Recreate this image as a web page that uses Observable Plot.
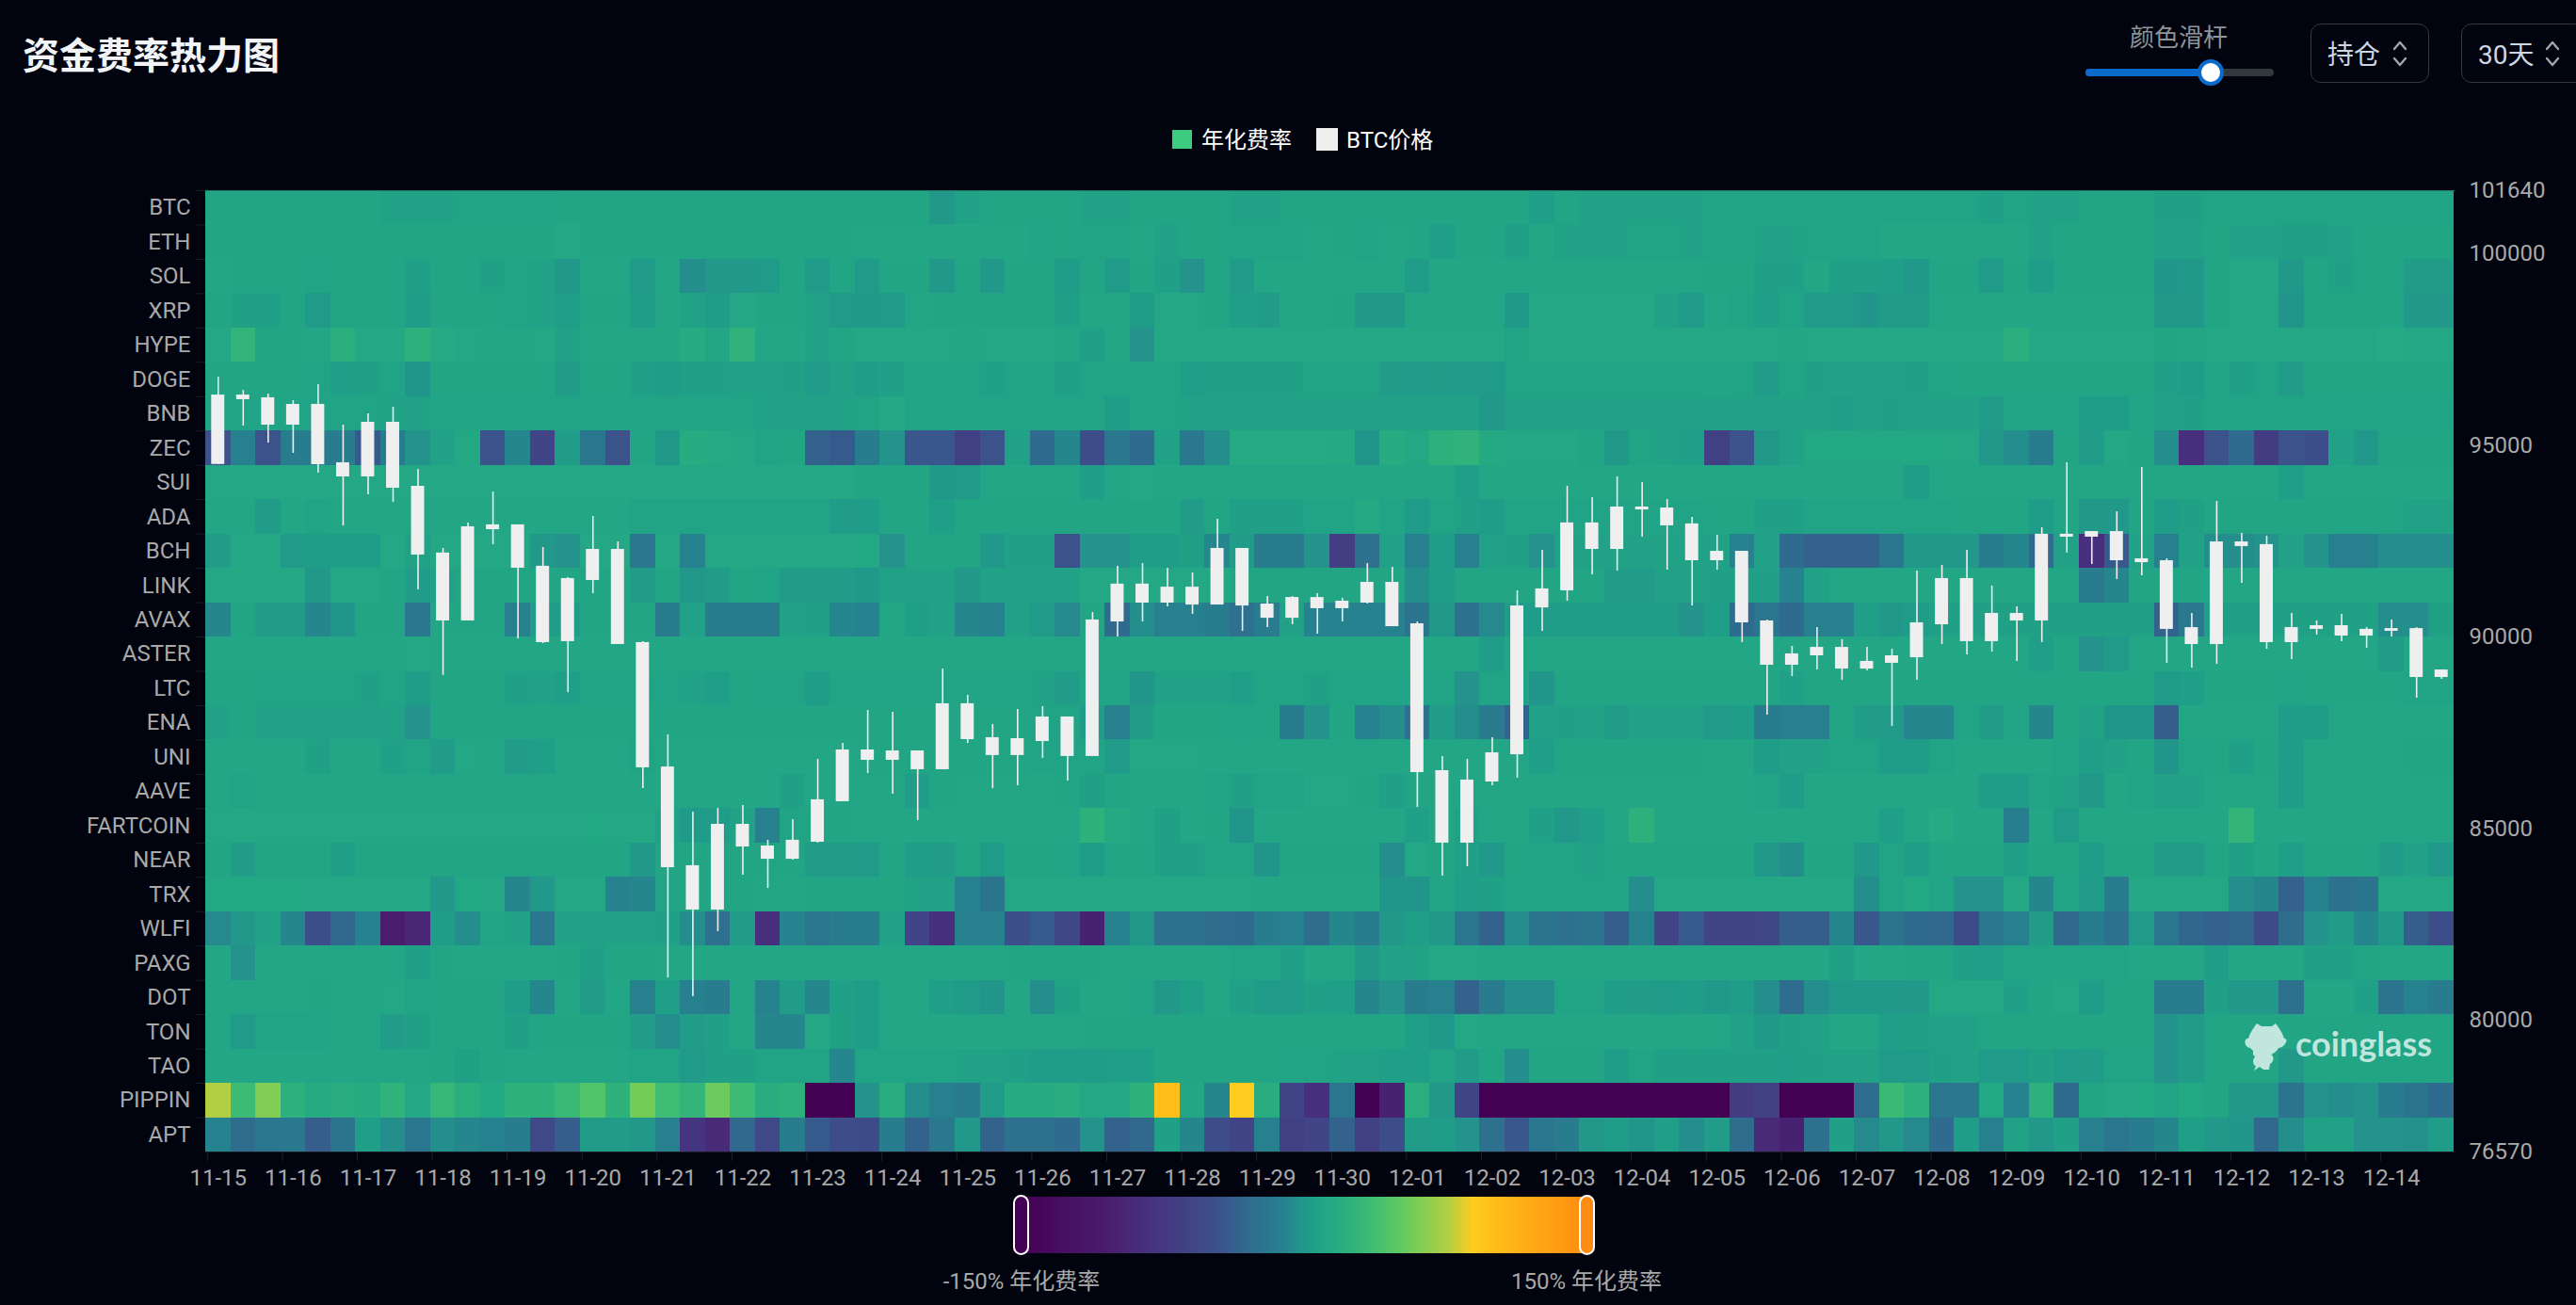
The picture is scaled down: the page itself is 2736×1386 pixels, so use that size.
<!DOCTYPE html>
<html><head><meta charset="utf-8">
<script src="https://cdn.jsdelivr.net/npm/d3@7"></script>
<script src="https://cdn.jsdelivr.net/npm/@observablehq/plot@0.6"></script>
<style>
html,body{margin:0;padding:0;background:#01030e;width:2736px;height:1386px;overflow:hidden;font-family:Roboto,"Noto Sans CJK SC",sans-serif}
#stage{position:relative;width:2736px;height:1386px}
#stage svg.plot{position:absolute;left:0;top:0}
.abs{position:absolute;white-space:nowrap}
.ctr{transform:translate(-50%,-50%)}
.mid{transform:translateY(-50%)}
.box{position:absolute;border:1.5px solid #32383e;border-radius:11px;box-sizing:border-box}
</style></head><body><div id="stage"></div>
<script>
const coins=["BTC","ETH","SOL","XRP","HYPE","DOGE","BNB","ZEC","SUI","ADA","BCH","LINK","AVAX","ASTER","LTC","ENA","UNI","AAVE","FARTCOIN","NEAR","TRX","WLFI","PAXG","DOT","TON","TAO","PIPPIN","APT"];
const dayLabels=["11-15","11-16","11-17","11-18","11-19","11-20","11-21","11-22","11-23","11-24","11-25","11-26","11-27","11-28","11-29","11-30","12-01","12-02","12-03","12-04","12-05","12-06","12-07","12-08","12-09","12-10","12-11","12-12","12-13","12-14"];
const priceTicks=[101640,100000,95000,90000,85000,80000,76570];
const rateStops=[-150,-105,-85,-60,-45,-30,-20,-10,-2,3,7,10,14,22,35,50,60,76,90,100,150];
const colorStops=["#440154","#4a1c6e","#472f7d","#414487","#3b528b","#2f6b8e","#2a768e","#26828e","#22958b","#209c89","#20a186","#22a585","#23a884","#2bae7e","#3dbb74","#5cc863","#7acd55","#b0cf44","#ffcc1f","#ffbf1a","#ff8c10"];

const rBTC=[10,10,10,10,10,10,10,8,8,8,9,9,9,9,10,10,10,10,10,10,10,10,10,10,10,10,10,10,10,0,8,10,10,10,10,8,8,10,10,10,10,8,8,10,10,10,10,10,10,10,10,10,10,5,10,8,8,8,8,8,9,9,9,9,9,9,9,9,9,9,9,6,9,8,8,10,10,10,7,7,9,9,9,9,9,9,9,9,9,9];
const rETH=[10,10,10,10,10,10,10,10,10,10,10,10,10,10,12,10,10,10,10,10,10,10,10,10,10,10,11,11,11,11,11,11,11,9,10,9,9,11,8,10,10,9,9,9,11,10,9,11,10,5,10,10,6,11,8,8,8,9,9,8,9,9,8,8,9,9,9,11,11,11,11,11,11,8,10,10,10,10,8,8,10,8,8,7,7,8,10,10,10,10];
const rSOL=[11,10,10,10,9,10,10,10,6,10,10,7,9,8,0,11,11,2,11,-5,0,0,2,10,2,10,2,10,10,0,10,0,10,10,4,10,2,10,6,-3,10,2,11,11,11,11,11,11,3,11,11,11,11,11,11,11,11,11,11,11,10,10,6,6,11,6,6,5,1,10,10,2,10,4,10,10,10,10,-1,1,10,12,12,1,10,7,10,10,3,3];
const rXRP=[10,7,6,10,2,10,10,10,4,10,10,10,9,8,5,10,10,4,11,8,4,12,10,10,8,2,1,2,11,10,10,10,10,10,6,11,11,4,12,12,10,5,3,11,11,10,0,0,11,11,11,11,1,12,12,12,12,12,8,2,11,9,5,9,2,2,-1,3,3,11,11,11,11,11,11,11,11,11,0,0,10,12,12,-2,10,10,10,10,0,0];
const rHYPE=[13,27,10,10,11,22,12,12,24,16,13,11,11,14,8,11,11,11,11,18,11,26,11,11,8,10,12,12,12,12,11,12,12,12,11,6,11,-3,12,12,12,12,12,12,12,12,12,12,12,12,12,12,9,12,12,12,12,12,12,12,12,12,12,11,12,12,12,12,12,12,12,12,22,12,12,12,12,12,10,11,12,12,12,12,12,12,12,16,12,12];
const rDOGE=[10,10,10,10,9,5,7,9,-2,10,10,10,10,10,3,10,10,6,4,6,6,8,8,7,2,8,4,6,9,9,9,6,9,9,6,9,9,9,9,5,7,7,7,7,9,9,9,3,2,3,2,2,9,9,9,9,9,9,9,9,10,9,2,9,6,8,8,8,6,9,10,10,10,10,10,10,10,10,6,4,9,6,9,3,10,10,10,10,10,10];
const rBNB=[9,9,9,9,9,9,9,8,8,9,9,9,9,9,9,9,9,9,9,9,9,9,8,8,8,8,9,13,9,9,9,9,9,9,9,9,4,9,9,8,8,8,8,8,8,8,8,8,8,8,8,0,8,8,8,8,8,8,8,8,8,8,8,8,8,5,8,7,8,8,8,3,9,9,9,4,4,9,8,6,9,9,9,9,9,9,9,9,9,9];
const rZEC=[-45,-12,-45,-15,-15,-15,-40,-15,-3,8,14,-45,-8,-60,3,-20,-45,10,0,18,16,12,9,10,-35,-40,-15,-3,-42,-42,-65,-45,8,-30,-8,-50,-18,-30,8,-18,-5,16,16,16,16,15,-2,18,14,24,26,15,12,12,12,10,0,9,8,5,-65,-45,0,8,14,14,14,14,14,14,12,0,-5,-15,10,3,12,10,-5,-85,-45,-30,-70,-45,-48,8,0,10,10,10];
const rSUI=[12,12,12,12,12,12,12,12,12,12,12,12,12,12,12,12,12,12,12,12,12,12,12,12,12,12,10,10,10,1,2,11,11,11,11,4,11,13,11,11,11,11,11,11,11,11,11,11,11,11,5,11,11,11,11,11,11,11,11,11,11,11,11,11,11,11,11,11,4,11,11,11,11,11,11,11,11,11,11,11,11,11,11,5,11,11,11,11,11,11];
const rADA=[11,11,3,11,9,11,11,11,11,11,11,11,11,11,11,11,11,9,9,9,9,9,9,9,9,3,4,10,10,5,10,10,10,10,10,10,10,10,10,3,10,6,6,6,9,9,15,9,2,9,6,4,9,9,9,9,9,9,9,9,10,10,6,6,9,9,9,9,9,9,10,10,10,4,10,0,0,10,4,7,10,10,10,10,10,10,10,10,8,8];
const rBCH=[3,12,12,2,4,4,4,12,8,12,12,12,12,0,-3,12,12,-20,12,-10,12,12,12,12,12,12,14,-3,10,10,10,0,6,6,-45,-3,-3,4,4,7,-8,3,-15,-15,-3,-68,-25,8,-12,4,-12,8,7,-3,8,8,8,8,8,8,8,-10,8,-30,-35,-35,-35,-20,0,0,0,-15,-8,-30,8,-85,-40,8,-12,8,-5,-5,-3,8,-3,-12,-12,-5,-5,-5];
const rLINK=[12,12,12,12,0,12,12,10,3,8,10,10,10,10,10,10,10,3,10,0,3,10,9,3,3,3,1,8,8,8,0,8,8,8,8,12,12,12,12,12,12,10,10,10,10,10,10,10,-5,4,10,10,10,10,10,10,3,3,8,8,6,6,6,-10,8,11,11,11,11,11,11,11,11,11,11,-15,-8,10,10,10,11,11,11,11,11,11,11,11,11,11];
const rAVAX=[-8,10,3,3,-8,-2,10,10,-18,10,10,10,-12,3,3,10,10,10,-15,8,-15,-15,-15,8,6,-8,-10,11,5,8,-8,-10,8,2,-7,10,-30,-5,-12,-12,-15,-25,-15,8,-10,-10,-10,-10,-22,0,-25,-7,4,4,4,4,4,4,4,-3,5,-30,-20,-30,-12,-12,5,0,3,6,7,7,7,7,7,7,7,7,-35,-18,5,7,7,7,7,7,7,-5,-5,7];
const rASTER=[11,11,11,11,11,11,11,11,12,11,11,11,11,11,11,11,11,11,11,11,11,11,11,11,11,11,11,11,11,11,11,11,11,11,11,11,11,11,11,11,11,11,11,11,11,11,11,11,11,11,11,3,11,11,11,11,11,11,11,11,11,11,11,11,11,11,11,11,11,11,11,11,11,5,10,-3,2,11,11,11,11,11,11,11,11,11,11,3,11,11];
const rLTC=[10,10,9,9,9,9,6,9,4,10,10,10,6,8,5,9,9,9,9,8,5,10,9,9,4,9,9,9,9,9,9,9,9,8,3,9,9,-1,8,8,8,5,9,9,7,9,9,9,9,9,-3,9,9,-1,10,10,10,10,10,10,10,10,10,6,10,10,10,10,10,10,10,10,10,10,10,10,10,10,2,5,10,10,10,9,10,10,10,10,9,9];
const rENA=[8,10,8,8,8,8,8,8,-3,10,10,10,10,10,10,10,10,10,10,10,10,10,10,10,10,10,10,10,10,10,10,10,10,9,9,3,-12,3,10,10,10,9,10,-15,-3,10,-10,-5,-25,3,-5,-15,-35,8,7,8,3,8,8,8,2,4,-15,-12,-12,10,3,2,-8,-8,9,3,9,-8,10,8,-2,-2,-38,11,11,11,11,4,4,11,11,11,11,11];
const rUNI=[11,11,11,11,7,11,11,6,9,3,12,11,3,5,11,11,11,9,11,11,11,11,11,11,11,11,10,10,10,10,10,10,10,9,9,9,2,12,12,12,11,11,11,11,11,11,11,11,11,11,11,11,11,5,10,10,10,10,10,10,11,11,4,8,8,9,9,4,4,9,11,11,11,11,9,5,8,10,-2,9,10,6,10,4,11,11,11,11,10,10];
const rAAVE=[11,9,11,11,11,11,11,11,11,11,11,11,11,11,11,11,11,11,11,11,11,11,11,7,11,11,11,11,3,10,11,11,11,11,10,7,10,11,11,11,9,6,9,9,13,13,10,6,10,10,11,11,11,11,11,11,11,11,11,11,11,11,9,4,11,11,11,11,11,11,11,4,4,9,8,0,11,9,8,8,11,11,11,4,11,11,11,11,11,11];
const rFARTCOIN=[12,12,12,12,12,12,12,12,12,12,12,12,12,12,12,14,12,12,8,2,3,8,-12,9,10,10,11,11,11,11,11,11,11,11,11,25,15,11,7,11,10,-2,11,11,11,11,11,11,6,10,8,11,11,6,0,5,11,24,11,11,11,11,11,11,11,11,11,5,11,16,11,11,-13,11,2,11,11,11,11,11,11,28,11,11,11,11,11,11,11,11];
const rNEAR=[10,3,10,10,10,6,10,10,10,10,10,10,10,10,10,10,10,0,10,10,10,10,10,10,3,3,2,10,4,3,10,2,10,10,9,4,10,10,7,7,9,9,-2,10,10,10,10,-5,12,10,6,1,10,9,9,8,10,10,10,10,10,10,0,-5,10,10,1,9,4,10,10,10,6,10,10,4,10,10,3,3,10,7,10,5,10,10,10,3,8,1];
const rTRX=[14,14,14,14,12,12,12,12,12,0,14,12,-8,0,13,13,-10,-8,9,10,10,10,11,11,10,10,10,10,8,8,-10,-22,13,13,13,13,13,13,13,13,13,13,11,11,11,11,11,-2,-2,9,5,7,9,9,9,9,9,-5,13,13,12,12,12,12,12,12,-5,9,14,9,-3,-3,12,-8,9,2,-15,12,12,12,12,-5,-8,-35,-10,-25,-22,13,13,13];
const rWLFI=[-7,0,8,-8,-48,-32,-10,-105,-95,4,-5,9,8,-20,8,8,8,8,6,-5,-25,3,-85,-10,-20,-15,-15,8,-60,-85,-12,-12,-48,-40,-58,-100,-10,0,-25,-25,-28,-30,-15,-12,-28,-8,-15,0,5,0,-20,-35,-5,-22,-25,-22,-38,-12,-60,-40,-60,-60,-58,-38,-38,-8,-42,-22,-30,-32,-52,-18,-12,3,-32,-15,-25,2,-20,-33,-36,-33,-52,-28,-3,3,-8,0,-38,-50];
const rPAXG=[11,-3,11,11,11,11,11,11,6,10,11,11,11,11,10,6,10,10,11,11,11,11,11,11,11,11,11,11,11,11,11,11,10,10,10,10,11,11,11,11,11,9,9,6,11,11,1,8,8,13,13,11,11,11,11,11,11,11,11,11,11,11,11,11,11,7,11,11,10,10,6,5,9,9,9,9,9,11,11,11,4,11,11,11,7,7,10,11,11,11];
const rDOT=[11,11,11,11,10,11,11,12,9,10,10,10,4,-8,11,3,11,-12,5,-12,-15,11,-10,3,-8,6,4,11,11,5,2,-2,11,-5,7,11,11,9,0,5,11,6,2,2,6,5,-8,-3,-15,-12,-35,-15,-5,-5,9,9,4,3,2,4,1,4,-5,-28,-5,1,1,1,0,12,12,12,6,10,12,4,10,10,-15,-15,6,0,0,-25,11,11,6,-22,-10,-15];
const rTON=[11,2,9,9,9,11,11,3,7,10,10,10,7,10,10,10,10,3,-5,3,6,11,-8,-8,13,7,4,11,11,11,11,11,11,11,11,10,10,10,10,10,10,10,10,10,10,10,10,10,5,1,12,11,11,11,11,11,11,11,11,11,11,8,1,7,8,11,11,5,7,8,8,10,10,10,10,10,10,10,-3,3,10,10,10,10,10,10,10,10,10,10];
const rTAO=[11,11,11,11,11,11,11,11,11,10,7,10,11,11,11,11,11,9,9,2,7,7,9,9,9,-8,9,9,9,9,8,8,6,4,4,4,5,5,10,10,10,10,10,9,9,8,8,5,5,9,3,10,-5,10,10,10,4,9,6,7,6,7,6,5,7,8,8,2,2,7,8,2,2,7,2,3,9,9,-3,3,10,10,10,0,10,10,10,10,10,10];
const rPIPPIN=[76,35,62,24,17,20,17,26,13,31,22,14,25,25,33,45,25,58,36,28,55,35,20,24,-150,-150,-3,20,-5,-12,-15,3,18,18,20,12,12,25,100,11,-8,90,20,-60,-85,-20,-150,-100,22,0,-60,-150,-150,-150,-150,-150,-150,-150,-150,-150,-150,-70,-62,-150,-150,-150,-28,33,24,-20,-18,14,-10,24,-30,10,12,14,9,14,10,0,0,-22,-3,-5,-3,-15,-22,-30];
const rAPT=[-10,-28,-20,-18,-38,-22,5,-5,-20,-5,-8,-10,-15,-55,-38,3,3,0,-12,-78,-90,-32,-55,-15,-40,-50,-52,-15,-35,-18,0,-35,-25,-25,-30,-3,-35,-32,6,-8,-50,-60,-12,-65,-60,-35,-65,-50,3,4,-3,-25,-42,-20,-15,0,4,-2,5,-5,3,-28,-90,-100,-25,6,-7,0,-7,-30,4,-12,8,0,6,-12,-20,-15,-8,5,0,-1,-32,-5,8,8,-3,-3,-4,4];
const rateRows=[rBTC,rETH,rSOL,rXRP,rHYPE,rDOGE,rBNB,rZEC,rSUI,rADA,rBCH,rLINK,rAVAX,rASTER,rLTC,rENA,rUNI,rAAVE,rFARTCOIN,rNEAR,rTRX,rWLFI,rPAXG,rDOT,rTON,rTAO,rPIPPIN,rAPT];

const priceHigh=[96780,96430,96335,96165,96582,95526,95820,95993,94372,92310,92970,93783,92925,92335,91550,93145,92480,89880,87450,85435,85530,85605,84700,85240,86810,87225,88085,88035,87030,89165,88480,87720,88110,88185,87915,90640,91845,91915,91795,91670,93070,92310,91055,91055,91130,91010,91915,91820,90395,86885,86810,87375,91205,92260,93930,93635,94175,94030,93585,93120,92655,92235,90445,89755,90245,89930,89730,89680,91720,91870,92260,91330,90785,92850,94545,92750,93265,94420,92040,90615,93535,92700,92630,90615,90420,90590,90245,90445,90245,89140];
const priceLow=[94500,95500,95060,94790,94274,92899,93709,93510,91230,89000,90420,92410,89950,89830,88550,91130,89805,86045,81115,80620,82315,83790,83445,84180,84625,85705,86440,85900,85215,86540,87225,86045,86120,86835,86245,86885,90000,90395,90785,90590,90835,90150,90245,90320,90075,90395,90860,90270,85555,83765,84010,86120,86320,90150,90935,91620,91720,92605,91745,90810,91745,89855,87965,88970,89140,88870,89120,87670,88870,89805,89535,89610,89365,89855,92190,91890,91500,91600,89315,89190,89290,91400,89680,89410,90050,89880,89705,90000,88405,88895];
const bodyHigh=[96310,96310,96240,96066,96066,94544,95600,95600,93930,92190,92875,92925,92925,91845,91525,92285,92285,89855,86610,84035,85115,85115,84550,84700,85755,87055,87055,87030,87030,88260,88260,87375,87350,87915,87915,90445,91380,91380,91300,91300,92310,92310,90860,91030,91030,90935,91425,91425,90345,86515,86270,86980,90810,91255,92975,92975,93390,93390,93365,92950,92235,92235,90420,89560,89730,89730,89365,89510,90370,91525,91525,90615,90615,92680,92680,92750,92750,92040,91990,90245,92480,92480,92410,90245,90295,90295,90200,90220,90220,89140];
const bodyLow=[94500,96190,95526,95526,94495,94176,94176,93880,92138,90420,90420,92800,91795,89855,89880,91475,89805,86590,83985,82880,82880,84525,84205,84205,84650,85705,86785,86785,86540,86540,87325,86910,86910,87275,86885,86885,90395,90885,90885,90835,90835,90810,90490,90490,90740,90740,90885,90270,86465,84625,84625,86220,86930,90760,91205,92285,92285,93315,92900,91990,91990,90370,89265,89265,89510,89165,89165,89315,89460,90320,89880,89880,90420,90420,92605,92605,91990,91940,90200,89805,89805,92360,89855,89855,90200,90025,90025,90150,88945,88945];

const W=2736,H=1386,mt=202,mb=163,ml=218,mr=130;
const cols=d3.range(90);
const cells=coins.flatMap((coin,r)=>rateRows[r].map((rate,col)=>({coin,col,rate})));
const candles=cols.map(i=>({i,high:priceHigh[i],low:priceLow[i],top:bodyHigh[i],bottom:bodyLow[i]}));
const font='Roboto,"Noto Sans CJK SC",sans-serif';
const dayTicks=d3.range(0,90,3);
const svgStyle={background:"transparent",fontFamily:font,fontSize:"24px",overflow:"visible"};

const heat=Plot.plot({width:W,height:H,marginTop:mt,marginBottom:mb,marginLeft:ml,marginRight:mr,style:svgStyle,
  x:{type:"band",domain:cols,padding:0,round:false,axis:null},
  y:{type:"band",domain:coins,padding:0,round:false,axis:null},
  color:{type:"linear",domain:rateStops,range:colorStops,clamp:true},
  marks:[
    Plot.cell(cells,{x:"col",y:"coin",fill:"rate",shapeRendering:"crispEdges"}),
    Plot.frame({anchor:"top",stroke:"#1d7f6c"}),
    Plot.frame({anchor:"bottom",stroke:"#1a1d26"}),
    Plot.axisY({anchor:"left",tickSize:0,tickPadding:16,fill:"#a9a9a9",label:null}),
    Plot.axisY({anchor:"left",tickSize:10,stroke:"#1a1d26",fill:"none",dy:-18.23,label:null}),
    Plot.axisX({ticks:dayTicks,tickSize:0,tickPadding:18,fill:"#a9a9a9",tickFormat:i=>dayLabels[i/3],label:null}),
    Plot.axisX({ticks:dayTicks,tickSize:10,stroke:"#1f222b",fill:"none",dx:-11.5,label:null})
  ]});
const candle=Plot.plot({width:W,height:H,marginTop:mt,marginBottom:mb,marginLeft:ml,marginRight:mr,style:svgStyle,
  x:{type:"band",domain:cols,padding:0,round:false,axis:null},
  y:{type:"linear",domain:[76570,101640],axis:null},
  marks:[
    Plot.ruleX(candles,{x:"i",y1:"low",y2:"high",stroke:"#efefef",strokeWidth:1.6}),
    Plot.barY(candles,{x:"i",y1:"bottom",y2:"top",fill:"#efefef",insetLeft:6.3,insetRight:6.3}),
    Plot.axisY({anchor:"right",ticks:priceTicks,tickSize:0,tickPadding:16,fill:"#a9a9a9",tickFormat:d=>String(d),label:null})
  ]});

const stage=document.getElementById("stage");
stage.append(heat,candle);
heat.classList.add("plot");candle.classList.add("plot");

const grad=rateStops.map((v,i)=>`${colorStops[i]} ${((v+150)/3).toFixed(2)}%`).join(",");
const chev=(x,y)=>`<svg class="abs" style="left:${x-9}px;top:${y-14}px" width="18" height="28" fill="none" stroke="#9fa6ad" stroke-width="2.4" stroke-linecap="round" stroke-linejoin="round"><polyline points="3,9 9,2 15,9"/><polyline points="3,19 9,26 15,19"/></svg>`;
const ui=`
<div class="abs mid" style="left:24px;top:55.5px;font-size:39px;font-weight:700;color:#f2f4f8">资金费率热力图</div>
<div class="abs ctr" style="left:2314px;top:37px;font-size:26px;color:#8f9499">颜色滑杆</div>
<div class="abs" style="left:2215px;top:73px;width:200px;height:8px;border-radius:4px;background:#32383e"></div>
<div class="abs" style="left:2215px;top:73px;width:133px;height:8px;border-radius:4px;background:#0b6bcb"></div>
<div class="abs" style="left:2334px;top:63px;width:28px;height:28px;border-radius:50%;background:#fff;border:4px solid #0b6bcb;box-sizing:border-box"></div>
<div class="box" style="left:2454px;top:25px;width:126px;height:63px"></div>
<div class="abs mid" style="left:2472px;top:55.5px;font-size:28px;color:#cdd7e1">持仓</div>${chev(2549,57)}
<div class="box" style="left:2614px;top:25px;width:132px;height:63px"></div>
<div class="abs mid" style="left:2632px;top:55.5px;font-size:28px;color:#cdd7e1">30天</div>${chev(2711,57)}
<div class="abs" style="left:1245px;top:138px;width:21px;height:20px;background:#3ccb7f"></div>
<div class="abs mid" style="left:1276px;top:145.5px;font-size:24px;color:#fff">年化费率</div>
<div class="abs" style="left:1398px;top:136px;width:23px;height:24px;background:#efefef"></div>
<div class="abs mid" style="left:1430px;top:145.5px;font-size:24px;color:#fff">BTC价格</div>
<div class="abs" style="left:1085px;top:1271px;width:600px;height:60px;background:linear-gradient(to right,${grad})"></div>
<div class="abs" style="left:1076px;top:1269px;width:17px;height:64px;border:2px solid #fff;border-radius:9px;background:#440154;box-sizing:border-box"></div>
<div class="abs" style="left:1677px;top:1269px;width:17px;height:64px;border:2px solid #fff;border-radius:9px;background:#ff8c10;box-sizing:border-box"></div>
<div class="abs ctr" style="left:1085px;top:1357.5px;font-size:24px;color:#a9a9a9">-150% 年化费率</div>
<div class="abs ctr" style="left:1685px;top:1357.5px;font-size:24px;color:#a9a9a9">150% 年化费率</div>
<svg class="abs" style="left:2384px;top:1086px" width="46" height="52" fill="#fff" fill-opacity=".72"><path d="M4 17C-1 16-1 26 6 27L9 30 9 33C9 37 15 37 13 34 8 38 8 45 12 46L10 51 16 47 20 50 26 50 27 44C31 42 32 36 28 34 33 32 35 29 36 27 44 26 47 16 42 17 40 10 36 5 33 1L29 4 18 4 13 1C10 5 6 10 4 17Z"/></svg>
<div class="abs mid" style="left:2438px;top:1108px;font-family:Lato,sans-serif;font-weight:700;font-size:36px;color:rgba(255,255,255,.72)">coinglass</div>`;
stage.insertAdjacentHTML("beforeend",ui);
</script></body></html>
